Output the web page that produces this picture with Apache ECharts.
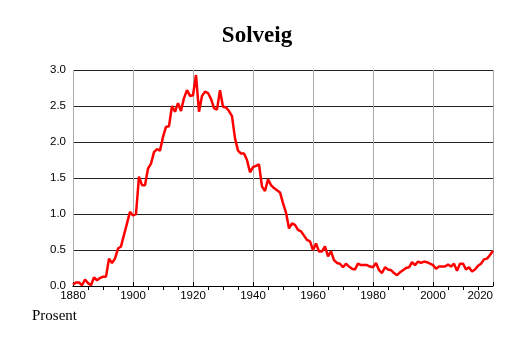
<!DOCTYPE html>
<html>
<head>
<meta charset="utf-8">
<script src="https://cdn.jsdelivr.net/npm/echarts@6/dist/echarts.min.js"></script>
<style>
html,body{margin:0;padding:0;background:#fff;}
#chart{width:514px;height:343px;}
</style>
</head>
<body>
<div id="chart"></div>
<script>
const years = [];
for (let y = 1880; y <= 2020; y++) years.push(y);
const values = [
0.02,0.05,0.05,0.01,0.09,0.04,0.01,0.12,0.08,0.11,
0.13,0.13,0.38,0.32,0.38,0.52,0.55,0.71,0.87,1.03,
0.98,1.00,1.52,1.40,1.40,1.63,1.70,1.86,1.90,1.88,
2.07,2.21,2.22,2.50,2.42,2.54,2.43,2.61,2.72,2.64,
2.65,2.93,2.42,2.64,2.70,2.68,2.60,2.47,2.45,2.72,
2.49,2.48,2.43,2.36,2.05,1.88,1.84,1.84,1.75,1.58,
1.65,1.67,1.69,1.38,1.32,1.48,1.40,1.36,1.33,1.30,
1.15,1.02,0.80,0.87,0.85,0.78,0.76,0.70,0.64,0.62,
0.50,0.59,0.48,0.48,0.55,0.41,0.48,0.36,0.32,0.31,
0.26,0.31,0.27,0.24,0.23,0.31,0.29,0.29,0.29,0.27,
0.26,0.32,0.22,0.18,0.26,0.23,0.22,0.18,0.15,0.19,
0.22,0.25,0.26,0.33,0.29,0.34,0.32,0.34,0.33,0.31,
0.29,0.24,0.27,0.27,0.27,0.30,0.27,0.31,0.21,0.31,
0.31,0.23,0.26,0.20,0.23,0.28,0.31,0.37,0.38,0.43,
0.49
];
const titleText = "Solveig";
const yAxisName = "Prosent";

const chart = echarts.init(document.getElementById('chart'), null, {renderer: 'canvas'});
chart.setOption({
  animation: false,
  backgroundColor: '#ffffff',
  title: {
    text: titleText,
    left: 'center',
    top: 20,
    textStyle: {fontFamily: 'Liberation Serif', fontWeight: 'bold', fontSize: 23, color: '#000'}
  },
  graphic: [{
    type: 'text', left: 32, top: 309,
    style: {text: yAxisName, font: '15px "Liberation Serif"', fill: '#000'}
  }],
  grid: {left: 73, right: 21, top: 70, bottom: 57},
  xAxis: {
    type: 'value', min: 1880, max: 2020, interval: 20,
    axisLine: {show: true, lineStyle: {color: '#000', width: 1}},
    axisTick: {show: true, inside: true, length: 4, lineStyle: {color: '#000'}},
    minorTick: {show: true, splitNumber: 4, length: -4, lineStyle: {color: '#000'}},
    axisLabel: {fontFamily: 'Liberation Sans', fontSize: 11.5, color: '#000', margin: 4, alignMaxLabel: 'right',
      formatter: v => String(v)},
    splitLine: {show: true, lineStyle: {color: '#aaaaaa', width: 1}}
  },
  yAxis: {
    type: 'value', min: 0, max: 3, interval: 0.5,
    axisLine: {show: false},
    axisTick: {show: false},
    axisLabel: {fontFamily: 'Liberation Sans', fontSize: 11.5, color: '#000', margin: 7,
      formatter: v => v.toFixed(1)},
    splitLine: {show: true, lineStyle: {color: '#222222', width: 1}}
  },
  series: [{
    type: 'line',
    data: years.map((y, i) => [y, values[i]]),
    showSymbol: false,
    lineStyle: {color: '#ff0000', width: 2.5},
    z: 5
  }]
});
</script>
</body>
</html>
